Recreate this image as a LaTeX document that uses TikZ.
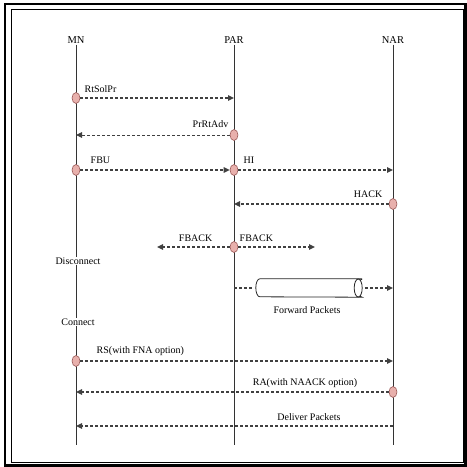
\documentclass[tikz,border=0pt]{standalone}
\usepackage{fontspec}
\setmainfont{Liberation Serif}
\usetikzlibrary{arrows.meta,shapes.geometric}
\definecolor{dotpink}{HTML}{E8B0AC}
\definecolor{dotedge}{HTML}{9A5A58}
\definecolor{msg}{HTML}{404040}
\tikzset{
  lbl/.style={font=\fontsize{10}{12}\selectfont, inner sep=0.5pt},
  head/.style={font=\fontsize{10.5}{12}\selectfont, inner sep=1pt},
  life/.style={line width=0.7pt, black!80},
  dot/.style={ellipse, draw=dotedge, fill=dotpink, line width=0.6pt, minimum width=8pt, minimum height=11pt, inner sep=0pt},
  msgline/.style={draw=msg, line width=1.4pt, dash pattern=on 3pt off 2pt, -{Triangle[length=6pt,width=5.5pt]}},
  plainmsg/.style={draw=msg, line width=1.4pt, dash pattern=on 3pt off 2pt},
  state/.style={font=\fontsize{10}{12}\selectfont, fill=white, inner sep=1pt},
  pipe/.style={draw=black!85, line width=0.8pt, fill=white},
}
\begin{document}
\begin{tikzpicture}[x=1pt,y=-1pt]
\useasboundingbox (0,0) rectangle (467,467);
% frame
\draw[line width=2.2pt] (5,4) rectangle (465.5,465.5);
\draw[line width=0.8pt] (11,9.5) rectangle (463,462.5);
% heads
\node[head] (mn) at (76,40) {MN};
\node[head] (par) at (234,40) {PAR};
\node[head] (nar) at (393,40) {NAR};
\coordinate (mnend) at (76,445);
\coordinate (parend) at (234,445);
\coordinate (narend) at (393,445);
\draw[life] (mn.south) -- (mnend);
\draw[life] (par.south) -- (parend);
\draw[life] (nar.south) -- (narend);
% state labels on MN lifeline
\node[state] (disc) at (78,261) {Disconnect};
\node[state] (conn) at (78,322) {Connect};
% RtSolPr
\node[dot] (d1) at (76,98) {};
\coordinate (e1) at (234,98);
\draw[msgline] (d1) -- (e1);
\node[lbl, anchor=west] (l1) at (84,89) {RtSolPr};
% PrRtAdv
\node[dot] (d2) at (234,135) {};
\coordinate (e2) at (76,135);
\draw[msgline, line width=1pt] (d2) -- (e2);
\node[lbl, anchor=east] (l2) at (229,124) {PrRtAdv};
% FBU
\node[dot] (d3) at (76,170) {};
\node[dot] (d4) at (234,170) {};
\draw[msgline] (d3) -- (d4.west);
\node[lbl, anchor=west] (l3) at (90,160) {FBU};
% HI
\coordinate (e4) at (393,170);
\draw[msgline] (d4) -- (e4);
\node[lbl, anchor=west] (l4) at (243,160) {HI};
% HACK
\node[dot] (d5) at (393,204) {};
\coordinate (e5) at (234,204);
\draw[msgline] (d5) -- (e5);
\node[lbl, anchor=east] (l5) at (383,194) {HACK};
% FBACK
\node[dot] (d6) at (234,247) {};
\coordinate (e6a) at (157,247);
\coordinate (e6b) at (315,247);
\draw[msgline] (d6) -- (e6a);
\draw[msgline] (d6) -- (e6b);
\node[lbl, anchor=east] (l6a) at (213,238) {FBACK};
\node[lbl, anchor=west] (l6b) at (239,238) {FBACK};
% Forward packets: pipe drawn around a named placeholder node
\node[draw=none, minimum width=106pt, minimum height=18pt, inner sep=0pt] (cyl) at (309,288) {};
\draw[pipe] (cyl.north east) -- ([xshift=4pt]cyl.north west)
  arc[start angle=90, end angle=270, x radius=4pt, y radius=9pt]
  -- (cyl.south east)
  arc[start angle=-90, end angle=90, x radius=-4pt, y radius=9pt];
\draw[pipe] ([xshift=-4pt]cyl.east) ellipse[x radius=4pt, y radius=9pt];
\coordinate (fs) at (234,288);
\coordinate (fe) at (393,288);
\draw[plainmsg] (fs) -- ([xshift=-3pt]cyl.west);
\draw[msgline] ([xshift=3pt]cyl.east) -- (fe);
\node[lbl] (l7) at (307,310) {Forward Packets};
% RS
\node[dot] (d8) at (76,361) {};
\coordinate (e8) at (393,361);
\draw[msgline] (d8) -- (e8);
\node[lbl, anchor=west] (l8) at (96,351) {RS(with FNA option)};
% RA
\node[dot] (d9) at (393,392) {};
\coordinate (e9) at (76,392);
\draw[msgline] (d9) -- (e9);
\node[lbl, anchor=east] (l9) at (358,383) {RA(with NAACK option)};
% Deliver
\coordinate (s10) at (393,426);
\coordinate (e10) at (76,426);
\draw[msgline] (s10) -- (e10);
\node[lbl] (l10) at (309,417) {Deliver Packets};
\end{tikzpicture}
\end{document}
